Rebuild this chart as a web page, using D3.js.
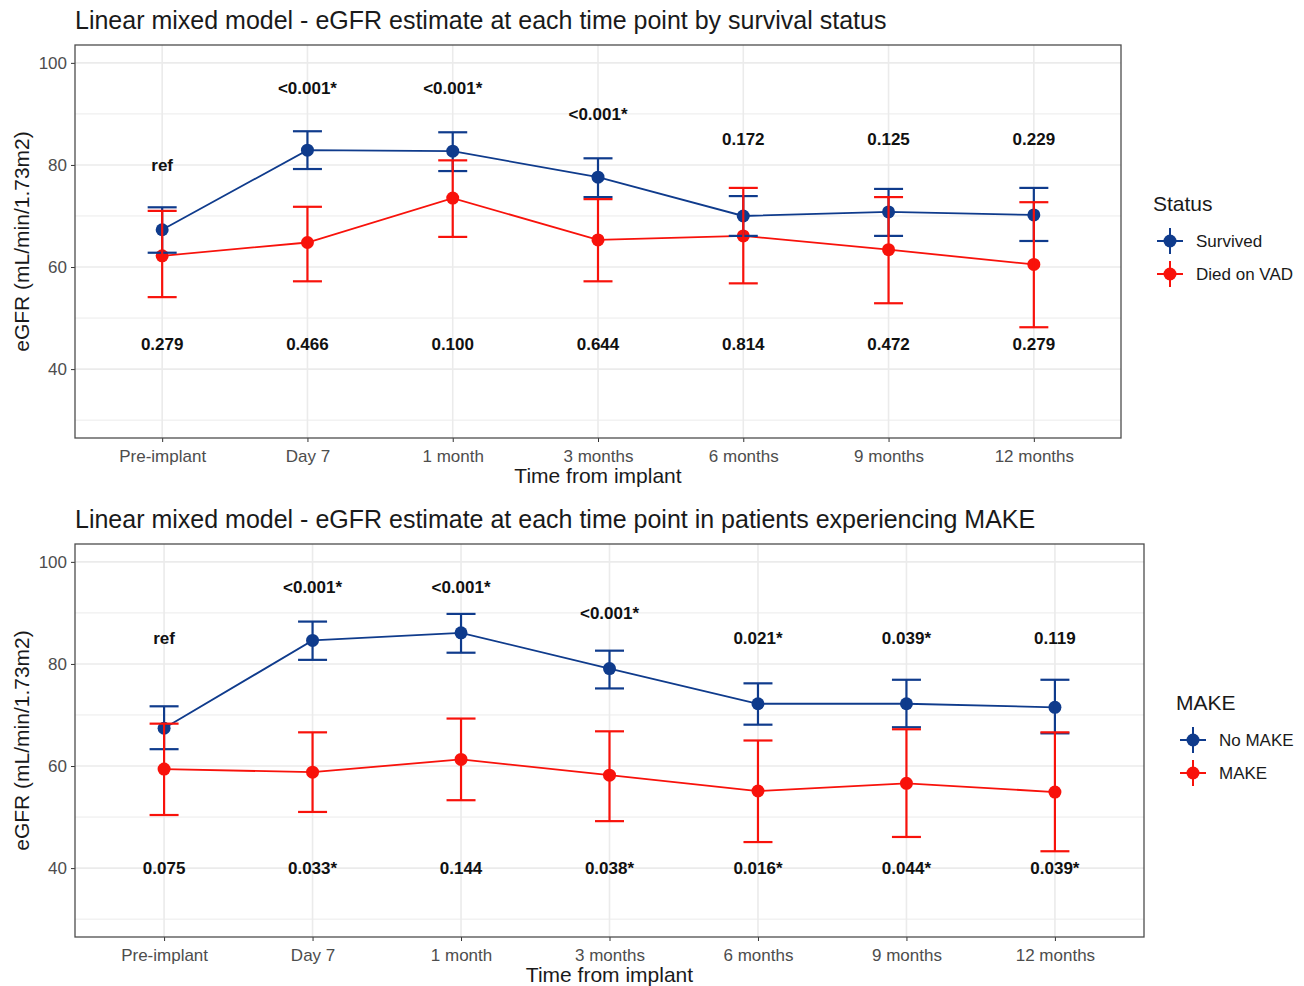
<!DOCTYPE html>
<html>
<head>
<meta charset="utf-8">
<script src="https://cdn.jsdelivr.net/npm/d3@7"></script>
<style>
  body { margin: 0; background: #fff; }
  svg { font-family: "Liberation Sans", Arial, Helvetica, sans-serif; }
</style>
</head>
<body>
<svg id="chart" width="1304" height="986"></svg>
<script>
// ######### DATA ###########
var timePoints = ["Pre-implant", "Day 7", "1 month", "3 months", "6 months", "9 months", "12 months"];
var yTicks = [40, 60, 80, 100];
var yMinorTicks = [30, 50, 70, 90];

// top panel : survival status
var survivedEst = [67.3, 82.9, 82.7, 77.6, 70.0, 70.8, 70.2];
var survivedLo  = [62.8, 79.2, 78.8, 73.7, 66.1, 66.1, 65.1];
var survivedHi  = [71.7, 86.6, 86.4, 81.3, 73.9, 75.3, 75.5];
var diedEst = [62.2, 64.8, 73.5, 65.3, 66.1, 63.4, 60.5];
var diedLo  = [54.1, 57.2, 65.9, 57.2, 56.8, 52.9, 48.2];
var diedHi  = [71.0, 71.8, 80.9, 73.3, 75.5, 73.7, 72.7];
var statusUpperLabels = ["ref", "<0.001*", "<0.001*", "<0.001*", "0.172", "0.125", "0.229"];
var statusUpperY = [80, 95, 95, 90, 85, 85, 85];
var statusLowerLabels = ["0.279", "0.466", "0.100", "0.644", "0.814", "0.472", "0.279"];
var statusLowerY = 45;

// bottom panel : MAKE
var noMakeEst = [67.4, 84.6, 86.1, 79.1, 72.2, 72.2, 71.5];
var noMakeLo  = [63.3, 80.8, 82.2, 75.2, 68.1, 67.6, 66.4];
var noMakeHi  = [71.7, 88.3, 89.8, 82.6, 76.2, 76.9, 76.9];
var makeEst = [59.4, 58.8, 61.3, 58.2, 55.1, 56.6, 54.9];
var makeLo  = [50.4, 51.0, 53.3, 49.2, 45.1, 46.1, 43.3];
var makeHi  = [68.3, 66.6, 69.3, 66.8, 65.0, 67.2, 66.6];
var makeUpperLabels = ["ref", "<0.001*", "<0.001*", "<0.001*", "0.021*", "0.039*", "0.119"];
var makeUpperY = [85, 95, 95, 90, 85, 85, 85];
var makeLowerLabels = ["0.075", "0.033*", "0.144", "0.038*", "0.016*", "0.044*", "0.039*"];
var makeLowerY = 40;

// ######### STYLE ###########
var blue = "#0f3b8c", red = "#f8120b";
var gridColor = "#ebebeb", borderColor = "#4d4d4d", tickText = "#4d4d4d";

var svg = d3.select("#chart");

function drawPanel(p) {
    var g = svg.append("g");

    var x = d3.scalePoint().domain(timePoints).range([p.left, p.right]).padding(0.6);
    var y = d3.scaleLinear().domain([26.5, 103.5]).range([p.bottom, p.top]);

    // title
    g.append("text").attr("x", p.left).attr("y", p.top - 16)
        .style("font-size", "25px").style("fill", "#1a1a1a").text(p.title);

    // grid (minor first, then major)
    g.selectAll(".minor").data(yMinorTicks).enter().append("line")
        .attr("x1", p.left).attr("x2", p.right)
        .attr("y1", function(d) { return y(d); }).attr("y2", function(d) { return y(d); })
        .style("stroke", gridColor).style("stroke-width", 1);
    g.selectAll(".major").data(yTicks).enter().append("line")
        .attr("x1", p.left).attr("x2", p.right)
        .attr("y1", function(d) { return y(d); }).attr("y2", function(d) { return y(d); })
        .style("stroke", gridColor).style("stroke-width", 1.6);
    g.selectAll(".vgrid").data(timePoints).enter().append("line")
        .attr("x1", function(d) { return x(d); }).attr("x2", function(d) { return x(d); })
        .attr("y1", p.top).attr("y2", p.bottom)
        .style("stroke", gridColor).style("stroke-width", 1.6);

    // axes
    var xAxis = g.append("g").attr("transform", "translate(0," + p.bottom + ")")
        .call(d3.axisBottom(x).tickSize(4).tickPadding(8));
    xAxis.select(".domain").remove();
    xAxis.selectAll("line").style("stroke", "#333");
    xAxis.selectAll("text").style("font-size", "17px").style("fill", tickText)
        .style("font-family", "Liberation Sans, Arial, sans-serif");

    var yAxis = g.append("g").attr("transform", "translate(" + p.left + ",0)")
        .call(d3.axisLeft(y).tickValues(yTicks).tickSize(4).tickPadding(4));
    yAxis.select(".domain").remove();
    yAxis.selectAll("line").style("stroke", "#333");
    yAxis.selectAll("text").style("font-size", "17px").style("fill", tickText)
        .style("font-family", "Liberation Sans, Arial, sans-serif");

    g.append("text").attr("x", (p.left + p.right) / 2).attr("y", p.bottom + 45)
        .attr("text-anchor", "middle").style("font-size", "21px").style("fill", "#1a1a1a")
        .text("Time from implant");
    g.append("text")
        .attr("transform", "translate(29," + ((p.top + p.bottom) / 2) + ") rotate(-90)")
        .attr("text-anchor", "middle").style("font-size", "21px").style("fill", "#1a1a1a")
        .text("eGFR (mL/min/1.73m2)");

    // series : lines, points, then error bars
    var capW = 14.5;
    p.groups.forEach(function(s) {
        var pts = timePoints.map(function(t, i) { return {t: t, est: s.est[i], lo: s.lo[i], hi: s.hi[i]}; });
        g.append("path").datum(pts)
            .attr("d", d3.line().x(function(d) { return x(d.t); }).y(function(d) { return y(d.est); }))
            .style("fill", "none").style("stroke", s.color).style("stroke-width", 1.8);
        g.selectAll(null).data(pts).enter().append("circle")
            .attr("cx", function(d) { return x(d.t); }).attr("cy", function(d) { return y(d.est); })
            .attr("r", 6.5).style("fill", s.color);
    });
    p.groups.forEach(function(s) {
        var pts = timePoints.map(function(t, i) { return {t: t, lo: s.lo[i], hi: s.hi[i]}; });
        var eb = g.selectAll(null).data(pts).enter().append("g").style("stroke", s.color).style("stroke-width", 2.2);
        eb.append("line").attr("x1", function(d) { return x(d.t); }).attr("x2", function(d) { return x(d.t); })
            .attr("y1", function(d) { return y(d.lo); }).attr("y2", function(d) { return y(d.hi); });
        eb.append("line").attr("x1", function(d) { return x(d.t) - capW; }).attr("x2", function(d) { return x(d.t) + capW; })
            .attr("y1", function(d) { return y(d.lo); }).attr("y2", function(d) { return y(d.lo); });
        eb.append("line").attr("x1", function(d) { return x(d.t) - capW; }).attr("x2", function(d) { return x(d.t) + capW; })
            .attr("y1", function(d) { return y(d.hi); }).attr("y2", function(d) { return y(d.hi); });
    });

    // p-value labels
    g.selectAll(null).data(p.upperLabels).enter().append("text")
        .attr("x", function(d, i) { return x(timePoints[i]); })
        .attr("y", function(d, i) { return y(p.upperY[i]) + 6; })
        .attr("text-anchor", "middle").style("font-size", "17px").style("font-weight", "bold")
        .style("fill", "#111").text(function(d) { return d; });
    g.selectAll(null).data(p.lowerLabels).enter().append("text")
        .attr("x", function(d, i) { return x(timePoints[i]); })
        .attr("y", y(p.lowerY) + 6)
        .attr("text-anchor", "middle").style("font-size", "17px").style("font-weight", "bold")
        .style("fill", "#111").text(function(d) { return d; });

    // panel border
    g.append("rect").attr("x", p.left).attr("y", p.top)
        .attr("width", p.right - p.left).attr("height", p.bottom - p.top)
        .style("fill", "none").style("stroke", borderColor).style("stroke-width", 1.3);

    // legend
    var lg = g.append("g").attr("transform", "translate(" + p.legendX + "," + p.legendY + ")");
    lg.append("text").attr("x", 0).attr("y", 7).style("font-size", "21px").style("fill", "#1a1a1a")
        .text(p.legendTitle);
    p.groups.forEach(function(s, i) {
        var ky = 37 + i * 33, kx = 17;
        var key = lg.append("g").style("stroke", s.color).style("stroke-width", 2);
        key.append("line").attr("x1", kx - 13).attr("x2", kx + 13).attr("y1", ky).attr("y2", ky);
        key.append("line").attr("x1", kx).attr("x2", kx).attr("y1", ky - 13).attr("y2", ky + 13);
        lg.append("circle").attr("cx", kx).attr("cy", ky).attr("r", 6.5).style("fill", s.color);
        lg.append("text").attr("x", 43).attr("y", ky + 6).style("font-size", "17px").style("fill", "#1a1a1a")
            .text(s.name);
    });
}

drawPanel({
    top: 45, bottom: 438, left: 75, right: 1121,
    title: "Linear mixed model - eGFR estimate at each time point by survival status",
    groups: [
        {name: "Survived", color: blue, est: survivedEst, lo: survivedLo, hi: survivedHi},
        {name: "Died on VAD", color: red, est: diedEst, lo: diedLo, hi: diedHi}
    ],
    upperLabels: statusUpperLabels, upperY: statusUpperY,
    lowerLabels: statusLowerLabels, lowerY: statusLowerY,
    legendTitle: "Status", legendX: 1153, legendY: 204
});

drawPanel({
    top: 544, bottom: 937, left: 75, right: 1144,
    title: "Linear mixed model - eGFR estimate at each time point in patients experiencing MAKE",
    groups: [
        {name: "No MAKE", color: blue, est: noMakeEst, lo: noMakeLo, hi: noMakeHi},
        {name: "MAKE", color: red, est: makeEst, lo: makeLo, hi: makeHi}
    ],
    upperLabels: makeUpperLabels, upperY: makeUpperY,
    lowerLabels: makeLowerLabels, lowerY: makeLowerY,
    legendTitle: "MAKE", legendX: 1176, legendY: 703
});
</script>
</body>
</html>
